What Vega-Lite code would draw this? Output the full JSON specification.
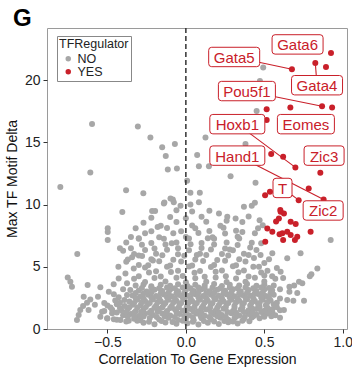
{
"$schema":"https://vega.github.io/schema/vega-lite/v6.json",
"width":300,"height":301,
"autosize":{"type":"none"},
"padding":{"left":47,"top":28,"right":5,"bottom":44},
"config":{"font":"Liberation Sans","view":{"stroke":"#9a9a9a","strokeWidth":1},
"axis":{"domain":false,"grid":false,"tickColor":"#333","tickSize":4,"labelFontSize":14,"labelColor":"#222","titleFontSize":14,"titleFontWeight":"normal","titleColor":"#111","labelPadding":2,"labelFlush":false}},
"title":{"text":"G","anchor":"start","frame":"group","fontSize":24,"fontWeight":"bold","color":"#000","dx":-34,"dy":26,"offset":3,"baseline":"alphabetic"},
"datasets":{
"pts":[
{"x":-0.598,"y":16.49,"g":"NO"},{"x":-0.306,"y":16.28,"g":"NO"},{"x":-0.226,"y":15.4,"g":"NO"},{"x":-0.151,"y":14.62,"g":"NO"},{"x":-0.07,"y":14.88,"g":"NO"},{"x":0.125,"y":15.4,"g":"NO"},{"x":0.38,"y":14.88,"g":"NO"},{"x":0.493,"y":21.02,"g":"NO"},{"x":0.472,"y":19.94,"g":"NO"},{"x":0.451,"y":17.53,"g":"NO"},{"x":-0.128,"y":13.9,"g":"NO"},{"x":-0.115,"y":12.83,"g":"NO"},{"x":-0.057,"y":12.91,"g":"NO"},{"x":-0.609,"y":12.59,"g":"NO"},{"x":-0.8,"y":11.41,"g":"NO"},{"x":-0.381,"y":11.16,"g":"NO"},{"x":-0.271,"y":10.92,"g":"NO"},{"x":-0.405,"y":9.4,"g":"NO"},{"x":-0.215,"y":9.48,"g":"NO"},{"x":-0.196,"y":9.48,"g":"NO"},{"x":-0.137,"y":10.18,"g":"NO"},{"x":-0.083,"y":10.42,"g":"NO"},{"x":-0.498,"y":8.11,"g":"NO"},{"x":-0.498,"y":7.79,"g":"NO"},{"x":-0.498,"y":7.15,"g":"NO"},{"x":-0.692,"y":6.02,"g":"NO"},{"x":0.072,"y":13.98,"g":"NO"},{"x":0.083,"y":13.09,"g":"NO"},{"x":0.147,"y":13.09,"g":"NO"},{"x":0.008,"y":11.91,"g":"NO"},{"x":0.285,"y":12.29,"g":"NO"},{"x":0.029,"y":10.95,"g":"NO"},{"x":0.089,"y":10.95,"g":"NO"},{"x":-0.14,"y":10.1,"g":"NO"},{"x":-0.077,"y":10.2,"g":"NO"},{"x":-0.034,"y":9.9,"g":"NO"},{"x":0.029,"y":10.0,"g":"NO"},{"x":0.083,"y":10.2,"g":"NO"},{"x":-0.098,"y":10.5,"g":"NO"},{"x":0.211,"y":9.29,"g":"NO"},{"x":0.264,"y":9.02,"g":"NO"},{"x":0.317,"y":8.89,"g":"NO"},{"x":0.37,"y":9.82,"g":"NO"},{"x":0.444,"y":11.75,"g":"NO"},{"x":0.42,"y":9.9,"g":"NO"},{"x":0.44,"y":10.15,"g":"NO"},{"x":0.47,"y":8.75,"g":"NO"},{"x":0.49,"y":8.35,"g":"NO"},{"x":0.923,"y":7.15,"g":"NO"},{"x":0.838,"y":4.87,"g":"NO"},{"x":0.8,"y":4.4,"g":"NO"},{"x":0.79,"y":4.25,"g":"NO"},{"x":0.604,"y":4.6,"g":"NO"},{"x":0.646,"y":5.68,"g":"NO"},{"x":0.551,"y":6.1,"g":"NO"},{"x":0.731,"y":6.1,"g":"NO"},{"x":0.434,"y":5.7,"g":"NO"},{"x":0.476,"y":5.94,"g":"NO"},{"x":0.466,"y":5.0,"g":"NO"},{"x":0.721,"y":3.8,"g":"NO"},{"x":0.742,"y":3.67,"g":"NO"},{"x":0.69,"y":3.5,"g":"NO"},{"x":0.66,"y":3.4,"g":"NO"},{"x":0.646,"y":2.33,"g":"NO"},{"x":0.685,"y":2.27,"g":"NO"},{"x":0.753,"y":2.27,"g":"NO"},{"x":0.625,"y":1.53,"g":"NO"},{"x":0.551,"y":1.39,"g":"NO"},{"x":0.498,"y":1.12,"g":"NO"},
{"x":-0.753,"y":4.15,"g":"NO"},{"x":-0.736,"y":3.8,"g":"NO"},{"x":-0.726,"y":3.4,"g":"NO"},{"x":-0.626,"y":3.53,"g":"NO"},{"x":-0.545,"y":3.35,"g":"NO"},{"x":-0.651,"y":2.6,"g":"NO"},{"x":-0.609,"y":2.38,"g":"NO"},{"x":-0.63,"y":2.11,"g":"NO"},{"x":-0.655,"y":1.85,"g":"NO"},{"x":-0.673,"y":1.53,"g":"NO"},{"x":-0.683,"y":1.12,"g":"NO"},{"x":-0.694,"y":0.72,"g":"NO"},{"x":-0.491,"y":3.0,"g":"NO"},{"x":-0.459,"y":2.79,"g":"NO"},{"x":-0.428,"y":2.55,"g":"NO"},{"x":-0.392,"y":2.33,"g":"NO"},{"x":-0.534,"y":1.39,"g":"NO"},{"x":-0.545,"y":0.99,"g":"NO"},{"x":-0.502,"y":0.86,"g":"NO"},{"x":-0.459,"y":0.78,"g":"NO"},{"x":-0.417,"y":0.72,"g":"NO"},{"x":-0.364,"y":0.67,"g":"NO"},{"x":-0.47,"y":1.26,"g":"NO"},{"x":-0.428,"y":4.07,"g":"NO"},{"x":-0.385,"y":4.47,"g":"NO"},{"x":-0.375,"y":3.67,"g":"NO"},{"x":-0.332,"y":4.87,"g":"NO"},{"x":-0.3,"y":5.14,"g":"NO"},{"x":-0.343,"y":5.76,"g":"NO"},{"x":-0.279,"y":5.86,"g":"NO"},{"x":-0.354,"y":3.13,"g":"NO"},{"x":-0.375,"y":2.73,"g":"NO"},
{"x":-0.27,"y":0.5,"g":"NO"},{"x":-0.2,"y":0.38,"g":"NO"},{"x":-0.13,"y":0.52,"g":"NO"},{"x":-0.06,"y":0.42,"g":"NO"},{"x":0.01,"y":0.47,"g":"NO"},{"x":0.08,"y":0.36,"g":"NO"},{"x":0.14,"y":0.5,"g":"NO"},{"x":0.21,"y":0.41,"g":"NO"},{"x":0.27,"y":0.55,"g":"NO"},{"x":0.33,"y":0.44,"g":"NO"},
{"x":-0.5,"y":0.85,"g":"NO"},{"x":-0.44,"y":0.75,"g":"NO"},{"x":-0.33,"y":0.82,"g":"NO"},{"x":-0.29,"y":0.7,"g":"NO"},{"x":-0.23,"y":0.88,"g":"NO"},{"x":-0.17,"y":0.76,"g":"NO"},{"x":-0.11,"y":0.9,"g":"NO"},{"x":-0.05,"y":0.72,"g":"NO"},{"x":0.0,"y":0.84,"g":"NO"},{"x":0.05,"y":0.7,"g":"NO"},{"x":0.1,"y":0.86,"g":"NO"},{"x":0.16,"y":0.78,"g":"NO"},{"x":0.22,"y":0.9,"g":"NO"},{"x":0.27,"y":0.74,"g":"NO"},{"x":0.31,"y":0.86,"g":"NO"},{"x":0.37,"y":0.8,"g":"NO"},{"x":0.42,"y":0.92,"g":"NO"},{"x":0.47,"y":0.86,"g":"NO"},
{"x":-0.4,"y":1.1,"g":"NO"},{"x":-0.35,"y":1.2,"g":"NO"},{"x":-0.3,"y":1.05,"g":"NO"},{"x":-0.26,"y":1.22,"g":"NO"},{"x":-0.21,"y":1.12,"g":"NO"},{"x":-0.15,"y":1.25,"g":"NO"},{"x":-0.1,"y":1.08,"g":"NO"},{"x":-0.04,"y":1.2,"g":"NO"},{"x":0.02,"y":1.1,"g":"NO"},{"x":0.07,"y":1.24,"g":"NO"},{"x":0.12,"y":1.06,"g":"NO"},{"x":0.18,"y":1.18,"g":"NO"},{"x":0.23,"y":1.12,"g":"NO"},{"x":0.29,"y":1.26,"g":"NO"},{"x":0.34,"y":1.08,"g":"NO"},{"x":0.4,"y":1.2,"g":"NO"},{"x":0.45,"y":1.14,"g":"NO"},{"x":0.52,"y":1.25,"g":"NO"},{"x":0.57,"y":1.1,"g":"NO"},
{"x":-0.62,"y":1.52,"g":"NO"},{"x":-0.52,"y":1.45,"g":"NO"},{"x":-0.47,"y":1.55,"g":"NO"},{"x":-0.41,"y":1.48,"g":"NO"},{"x":-0.37,"y":1.6,"g":"NO"},{"x":-0.32,"y":1.42,"g":"NO"},{"x":-0.27,"y":1.55,"g":"NO"},{"x":-0.22,"y":1.47,"g":"NO"},{"x":-0.17,"y":1.6,"g":"NO"},{"x":-0.12,"y":1.44,"g":"NO"},{"x":-0.07,"y":1.58,"g":"NO"},{"x":-0.02,"y":1.46,"g":"NO"},{"x":0.03,"y":1.6,"g":"NO"},{"x":0.08,"y":1.43,"g":"NO"},{"x":0.13,"y":1.56,"g":"NO"},{"x":0.19,"y":1.48,"g":"NO"},{"x":0.24,"y":1.62,"g":"NO"},{"x":0.3,"y":1.45,"g":"NO"},{"x":0.35,"y":1.56,"g":"NO"},{"x":0.4,"y":1.5,"g":"NO"},{"x":0.45,"y":1.6,"g":"NO"},{"x":0.5,"y":1.46,"g":"NO"},{"x":0.55,"y":1.58,"g":"NO"},{"x":0.6,"y":1.5,"g":"NO"},
{"x":-0.58,"y":1.95,"g":"NO"},{"x":-0.5,"y":1.88,"g":"NO"},{"x":-0.44,"y":1.98,"g":"NO"},{"x":-0.39,"y":1.85,"g":"NO"},{"x":-0.34,"y":1.95,"g":"NO"},{"x":-0.29,"y":1.88,"g":"NO"},{"x":-0.24,"y":2.0,"g":"NO"},{"x":-0.19,"y":1.86,"g":"NO"},{"x":-0.14,"y":1.96,"g":"NO"},{"x":-0.09,"y":1.84,"g":"NO"},{"x":-0.04,"y":1.98,"g":"NO"},{"x":0.01,"y":1.9,"g":"NO"},{"x":0.06,"y":2.0,"g":"NO"},{"x":0.11,"y":1.86,"g":"NO"},{"x":0.16,"y":1.97,"g":"NO"},{"x":0.21,"y":1.9,"g":"NO"},{"x":0.26,"y":2.02,"g":"NO"},{"x":0.31,"y":1.87,"g":"NO"},{"x":0.36,"y":1.96,"g":"NO"},{"x":0.41,"y":1.88,"g":"NO"},{"x":0.46,"y":2.0,"g":"NO"},{"x":0.51,"y":1.9,"g":"NO"},{"x":0.56,"y":1.98,"g":"NO"},
{"x":-0.45,"y":2.3,"g":"NO"},{"x":-0.36,"y":2.22,"g":"NO"},{"x":-0.31,"y":2.35,"g":"NO"},{"x":-0.26,"y":2.25,"g":"NO"},{"x":-0.21,"y":2.38,"g":"NO"},{"x":-0.16,"y":2.24,"g":"NO"},{"x":-0.11,"y":2.36,"g":"NO"},{"x":-0.06,"y":2.28,"g":"NO"},{"x":-0.01,"y":2.4,"g":"NO"},{"x":0.04,"y":2.25,"g":"NO"},{"x":0.09,"y":2.36,"g":"NO"},{"x":0.14,"y":2.27,"g":"NO"},{"x":0.19,"y":2.4,"g":"NO"},{"x":0.24,"y":2.24,"g":"NO"},{"x":0.29,"y":2.35,"g":"NO"},{"x":0.34,"y":2.28,"g":"NO"},{"x":0.39,"y":2.4,"g":"NO"},{"x":0.44,"y":2.26,"g":"NO"},{"x":0.49,"y":2.36,"g":"NO"},{"x":0.54,"y":2.3,"g":"NO"},{"x":0.6,"y":2.45,"g":"NO"},
{"x":-0.34,"y":2.7,"g":"NO"},{"x":-0.29,"y":2.62,"g":"NO"},{"x":-0.24,"y":2.75,"g":"NO"},{"x":-0.19,"y":2.66,"g":"NO"},{"x":-0.14,"y":2.78,"g":"NO"},{"x":-0.09,"y":2.64,"g":"NO"},{"x":-0.04,"y":2.74,"g":"NO"},{"x":0.01,"y":2.68,"g":"NO"},{"x":0.06,"y":2.8,"g":"NO"},{"x":0.11,"y":2.65,"g":"NO"},{"x":0.16,"y":2.76,"g":"NO"},{"x":0.21,"y":2.68,"g":"NO"},{"x":0.26,"y":2.8,"g":"NO"},{"x":0.31,"y":2.64,"g":"NO"},{"x":0.36,"y":2.74,"g":"NO"},{"x":0.41,"y":2.7,"g":"NO"},{"x":0.46,"y":2.82,"g":"NO"},{"x":0.51,"y":2.66,"g":"NO"},{"x":0.56,"y":2.76,"g":"NO"},
{"x":-0.3,"y":3.1,"g":"NO"},{"x":-0.25,"y":3.02,"g":"NO"},{"x":-0.2,"y":3.15,"g":"NO"},{"x":-0.15,"y":3.05,"g":"NO"},{"x":-0.1,"y":3.18,"g":"NO"},{"x":-0.05,"y":3.04,"g":"NO"},{"x":0.0,"y":3.14,"g":"NO"},{"x":0.05,"y":3.06,"g":"NO"},{"x":0.1,"y":3.2,"g":"NO"},{"x":0.15,"y":3.03,"g":"NO"},{"x":0.2,"y":3.15,"g":"NO"},{"x":0.25,"y":3.08,"g":"NO"},{"x":0.3,"y":3.2,"g":"NO"},{"x":0.35,"y":3.04,"g":"NO"},{"x":0.4,"y":3.14,"g":"NO"},{"x":0.45,"y":3.06,"g":"NO"},{"x":0.5,"y":3.18,"g":"NO"},{"x":0.55,"y":3.1,"g":"NO"},{"x":0.6,"y":3.2,"g":"NO"},
{"x":-0.32,"y":3.5,"g":"NO"},{"x":-0.27,"y":3.58,"g":"NO"},{"x":-0.22,"y":3.44,"g":"NO"},{"x":-0.16,"y":3.55,"g":"NO"},{"x":-0.1,"y":3.48,"g":"NO"},{"x":-0.05,"y":3.6,"g":"NO"},{"x":0.01,"y":3.45,"g":"NO"},{"x":0.06,"y":3.56,"g":"NO"},{"x":0.12,"y":3.5,"g":"NO"},{"x":0.18,"y":3.62,"g":"NO"},{"x":0.23,"y":3.46,"g":"NO"},{"x":0.28,"y":3.56,"g":"NO"},{"x":0.34,"y":3.5,"g":"NO"},{"x":0.39,"y":3.62,"g":"NO"},{"x":0.45,"y":3.48,"g":"NO"},{"x":0.5,"y":3.58,"g":"NO"},{"x":0.56,"y":3.5,"g":"NO"},
{"x":-0.33,"y":4.05,"g":"NO"},{"x":-0.26,"y":3.78,"g":"NO"},{"x":-0.2,"y":4.1,"g":"NO"},{"x":-0.13,"y":3.82,"g":"NO"},{"x":-0.06,"y":4.12,"g":"NO"},{"x":0.0,"y":3.76,"g":"NO"},{"x":0.06,"y":4.08,"g":"NO"},{"x":0.13,"y":3.8,"g":"NO"},{"x":0.19,"y":4.15,"g":"NO"},{"x":0.26,"y":3.78,"g":"NO"},{"x":0.32,"y":4.06,"g":"NO"},{"x":0.38,"y":3.8,"g":"NO"},{"x":0.44,"y":4.12,"g":"NO"},{"x":0.5,"y":3.82,"g":"NO"},{"x":0.57,"y":4.05,"g":"NO"},
{"x":-0.3,"y":4.25,"g":"NO"},{"x":-0.235,"y":4.55,"g":"NO"},{"x":-0.16,"y":4.22,"g":"NO"},{"x":-0.095,"y":4.58,"g":"NO"},{"x":-0.02,"y":4.26,"g":"NO"},{"x":0.055,"y":4.52,"g":"NO"},{"x":0.12,"y":4.2,"g":"NO"},{"x":0.19,"y":4.6,"g":"NO"},{"x":0.255,"y":4.25,"g":"NO"},{"x":0.335,"y":4.56,"g":"NO"},{"x":0.4,"y":4.22,"g":"NO"},{"x":0.48,"y":4.55,"g":"NO"},{"x":0.55,"y":4.25,"g":"NO"},
{"x":-0.26,"y":4.95,"g":"NO"},{"x":-0.19,"y":4.65,"g":"NO"},{"x":-0.12,"y":5.0,"g":"NO"},{"x":-0.05,"y":4.68,"g":"NO"},{"x":0.02,"y":5.02,"g":"NO"},{"x":0.09,"y":4.66,"g":"NO"},{"x":0.16,"y":4.98,"g":"NO"},{"x":0.23,"y":4.7,"g":"NO"},{"x":0.3,"y":5.05,"g":"NO"},{"x":0.37,"y":4.7,"g":"NO"},{"x":0.43,"y":5.0,"g":"NO"},{"x":0.52,"y":4.68,"g":"NO"},
{"x":-0.38,"y":5.4,"g":"NO"},{"x":-0.24,"y":5.12,"g":"NO"},{"x":-0.17,"y":5.45,"g":"NO"},{"x":-0.1,"y":5.1,"g":"NO"},{"x":-0.03,"y":5.42,"g":"NO"},{"x":0.04,"y":5.1,"g":"NO"},{"x":0.11,"y":5.46,"g":"NO"},{"x":0.18,"y":5.15,"g":"NO"},{"x":0.25,"y":5.48,"g":"NO"},{"x":0.32,"y":5.12,"g":"NO"},{"x":0.38,"y":5.42,"g":"NO"},{"x":0.5,"y":5.3,"g":"NO"},
{"x":-0.37,"y":5.58,"g":"NO"},{"x":-0.3,"y":5.9,"g":"NO"},{"x":-0.22,"y":5.6,"g":"NO"},{"x":-0.15,"y":5.92,"g":"NO"},{"x":-0.08,"y":5.56,"g":"NO"},{"x":-0.01,"y":5.88,"g":"NO"},{"x":0.06,"y":5.58,"g":"NO"},{"x":0.13,"y":5.94,"g":"NO"},{"x":0.2,"y":5.55,"g":"NO"},{"x":0.27,"y":5.9,"g":"NO"},{"x":0.34,"y":5.6,"g":"NO"},{"x":0.4,"y":5.95,"g":"NO"},
{"x":-0.4,"y":6.3,"g":"NO"},{"x":-0.33,"y":6.02,"g":"NO"},{"x":-0.26,"y":6.36,"g":"NO"},{"x":-0.19,"y":6.04,"g":"NO"},{"x":-0.12,"y":6.38,"g":"NO"},{"x":-0.05,"y":6.0,"g":"NO"},{"x":0.02,"y":6.34,"g":"NO"},{"x":0.09,"y":6.05,"g":"NO"},{"x":0.16,"y":6.4,"g":"NO"},{"x":0.23,"y":6.02,"g":"NO"},{"x":0.3,"y":6.34,"g":"NO"},{"x":0.37,"y":6.05,"g":"NO"},{"x":0.45,"y":6.35,"g":"NO"},
{"x":-0.35,"y":6.5,"g":"NO"},{"x":-0.28,"y":6.78,"g":"NO"},{"x":-0.2,"y":6.48,"g":"NO"},{"x":-0.13,"y":6.8,"g":"NO"},{"x":-0.05,"y":6.5,"g":"NO"},{"x":0.03,"y":6.82,"g":"NO"},{"x":0.1,"y":6.52,"g":"NO"},{"x":0.18,"y":6.8,"g":"NO"},{"x":0.25,"y":6.48,"g":"NO"},{"x":0.33,"y":6.76,"g":"NO"},{"x":0.41,"y":6.55,"g":"NO"},
{"x":-0.38,"y":6.95,"g":"NO"},{"x":-0.3,"y":7.25,"g":"NO"},{"x":-0.22,"y":6.92,"g":"NO"},{"x":-0.14,"y":7.26,"g":"NO"},{"x":-0.06,"y":6.95,"g":"NO"},{"x":0.02,"y":7.28,"g":"NO"},{"x":0.1,"y":6.92,"g":"NO"},{"x":0.18,"y":7.25,"g":"NO"},{"x":0.26,"y":6.96,"g":"NO"},{"x":0.34,"y":7.28,"g":"NO"},{"x":0.42,"y":6.94,"g":"NO"},
{"x":-0.35,"y":7.4,"g":"NO"},{"x":-0.26,"y":7.7,"g":"NO"},{"x":-0.17,"y":7.38,"g":"NO"},{"x":-0.08,"y":7.7,"g":"NO"},{"x":0.0,"y":7.4,"g":"NO"},{"x":0.08,"y":7.72,"g":"NO"},{"x":0.17,"y":7.38,"g":"NO"},{"x":0.25,"y":7.68,"g":"NO"},{"x":0.33,"y":7.42,"g":"NO"},{"x":0.44,"y":7.7,"g":"NO"},
{"x":-0.32,"y":8.1,"g":"NO"},{"x":-0.22,"y":7.85,"g":"NO"},{"x":-0.12,"y":8.12,"g":"NO"},{"x":-0.03,"y":7.86,"g":"NO"},{"x":0.06,"y":8.1,"g":"NO"},{"x":0.15,"y":7.88,"g":"NO"},{"x":0.24,"y":8.14,"g":"NO"},{"x":0.32,"y":7.9,"g":"NO"},{"x":0.46,"y":8.1,"g":"NO"},
{"x":-0.27,"y":8.55,"g":"NO"},{"x":-0.16,"y":8.3,"g":"NO"},{"x":-0.06,"y":8.6,"g":"NO"},{"x":0.04,"y":8.32,"g":"NO"},{"x":0.13,"y":8.62,"g":"NO"},{"x":0.22,"y":8.3,"g":"NO"},{"x":0.36,"y":8.6,"g":"NO"},
{"x":-0.22,"y":8.95,"g":"NO"},{"x":-0.1,"y":9.0,"g":"NO"},{"x":0.0,"y":8.9,"g":"NO"},{"x":0.1,"y":9.02,"g":"NO"},{"x":0.4,"y":9.05,"g":"NO"},
{"x":-0.06,"y":9.55,"g":"NO"},{"x":0.04,"y":9.45,"g":"NO"},{"x":0.15,"y":9.5,"g":"NO"},
{"x":-0.38,"y":0.6,"g":"NO"},{"x":-0.31,"y":0.66,"g":"NO"},{"x":-0.235,"y":0.58,"g":"NO"},{"x":-0.155,"y":0.64,"g":"NO"},{"x":-0.085,"y":0.57,"g":"NO"},{"x":-0.02,"y":0.66,"g":"NO"},{"x":0.045,"y":0.58,"g":"NO"},{"x":0.115,"y":0.65,"g":"NO"},{"x":0.18,"y":0.6,"g":"NO"},{"x":0.245,"y":0.64,"g":"NO"},{"x":0.3,"y":0.6,"g":"NO"},{"x":0.36,"y":0.66,"g":"NO"},{"x":0.405,"y":0.62,"g":"NO"},
{"x":-0.37,"y":0.98,"g":"NO"},{"x":-0.325,"y":0.95,"g":"NO"},{"x":-0.27,"y":1.0,"g":"NO"},{"x":-0.185,"y":0.97,"g":"NO"},{"x":-0.135,"y":1.03,"g":"NO"},{"x":-0.07,"y":0.96,"g":"NO"},{"x":-0.01,"y":1.02,"g":"NO"},{"x":0.045,"y":0.95,"g":"NO"},{"x":0.095,"y":1.03,"g":"NO"},{"x":0.15,"y":0.97,"g":"NO"},{"x":0.2,"y":1.02,"g":"NO"},{"x":0.255,"y":0.96,"g":"NO"},{"x":0.32,"y":1.0,"g":"NO"},{"x":0.375,"y":0.97,"g":"NO"},{"x":0.43,"y":1.03,"g":"NO"},{"x":0.5,"y":0.98,"g":"NO"},{"x":0.545,"y":1.02,"g":"NO"},
{"x":-0.44,"y":1.33,"g":"NO"},{"x":-0.38,"y":1.37,"g":"NO"},{"x":-0.33,"y":1.3,"g":"NO"},{"x":-0.285,"y":1.36,"g":"NO"},{"x":-0.23,"y":1.32,"g":"NO"},{"x":-0.18,"y":1.38,"g":"NO"},{"x":-0.125,"y":1.31,"g":"NO"},{"x":-0.06,"y":1.36,"g":"NO"},{"x":0.0,"y":1.32,"g":"NO"},{"x":0.05,"y":1.38,"g":"NO"},{"x":0.1,"y":1.3,"g":"NO"},{"x":0.16,"y":1.36,"g":"NO"},{"x":0.21,"y":1.32,"g":"NO"},{"x":0.265,"y":1.37,"g":"NO"},{"x":0.32,"y":1.31,"g":"NO"},{"x":0.37,"y":1.36,"g":"NO"},{"x":0.425,"y":1.32,"g":"NO"},{"x":0.48,"y":1.37,"g":"NO"},{"x":0.53,"y":1.33,"g":"NO"},
{"x":-0.48,"y":1.72,"g":"NO"},{"x":-0.42,"y":1.68,"g":"NO"},{"x":-0.36,"y":1.75,"g":"NO"},{"x":-0.31,"y":1.7,"g":"NO"},{"x":-0.255,"y":1.76,"g":"NO"},{"x":-0.2,"y":1.7,"g":"NO"},{"x":-0.15,"y":1.74,"g":"NO"},{"x":-0.1,"y":1.68,"g":"NO"},{"x":-0.045,"y":1.75,"g":"NO"},{"x":0.005,"y":1.7,"g":"NO"},{"x":0.055,"y":1.76,"g":"NO"},{"x":0.1,"y":1.69,"g":"NO"},{"x":0.155,"y":1.74,"g":"NO"},{"x":0.2,"y":1.7,"g":"NO"},{"x":0.255,"y":1.76,"g":"NO"},{"x":0.31,"y":1.7,"g":"NO"},{"x":0.36,"y":1.75,"g":"NO"},{"x":0.42,"y":1.69,"g":"NO"},{"x":0.47,"y":1.76,"g":"NO"},{"x":0.52,"y":1.71,"g":"NO"},{"x":0.58,"y":1.75,"g":"NO"},
{"x":-0.42,"y":2.12,"g":"NO"},{"x":-0.33,"y":2.1,"g":"NO"},{"x":-0.28,"y":2.15,"g":"NO"},{"x":-0.23,"y":2.1,"g":"NO"},{"x":-0.18,"y":2.16,"g":"NO"},{"x":-0.13,"y":2.09,"g":"NO"},{"x":-0.08,"y":2.14,"g":"NO"},{"x":-0.03,"y":2.1,"g":"NO"},{"x":0.02,"y":2.16,"g":"NO"},{"x":0.07,"y":2.1,"g":"NO"},{"x":0.12,"y":2.14,"g":"NO"},{"x":0.17,"y":2.09,"g":"NO"},{"x":0.22,"y":2.15,"g":"NO"},{"x":0.27,"y":2.1,"g":"NO"},{"x":0.32,"y":2.16,"g":"NO"},{"x":0.37,"y":2.1,"g":"NO"},{"x":0.42,"y":2.14,"g":"NO"},{"x":0.47,"y":2.1,"g":"NO"},{"x":0.52,"y":2.16,"g":"NO"},{"x":0.58,"y":2.12,"g":"NO"},
{"x":-0.32,"y":2.5,"g":"NO"},{"x":-0.27,"y":2.46,"g":"NO"},{"x":-0.22,"y":2.53,"g":"NO"},{"x":-0.17,"y":2.48,"g":"NO"},{"x":-0.12,"y":2.54,"g":"NO"},{"x":-0.07,"y":2.47,"g":"NO"},{"x":-0.02,"y":2.52,"g":"NO"},{"x":0.03,"y":2.48,"g":"NO"},{"x":0.08,"y":2.54,"g":"NO"},{"x":0.13,"y":2.47,"g":"NO"},{"x":0.18,"y":2.52,"g":"NO"},{"x":0.23,"y":2.48,"g":"NO"},{"x":0.28,"y":2.54,"g":"NO"},{"x":0.33,"y":2.47,"g":"NO"},{"x":0.38,"y":2.52,"g":"NO"},{"x":0.43,"y":2.48,"g":"NO"},{"x":0.48,"y":2.54,"g":"NO"},{"x":0.53,"y":2.5,"g":"NO"},
{"x":-0.32,"y":2.9,"g":"NO"},{"x":-0.27,"y":2.86,"g":"NO"},{"x":-0.22,"y":2.93,"g":"NO"},{"x":-0.16,"y":2.88,"g":"NO"},{"x":-0.11,"y":2.94,"g":"NO"},{"x":-0.06,"y":2.87,"g":"NO"},{"x":-0.01,"y":2.92,"g":"NO"},{"x":0.04,"y":2.88,"g":"NO"},{"x":0.08,"y":2.94,"g":"NO"},{"x":0.13,"y":2.87,"g":"NO"},{"x":0.18,"y":2.92,"g":"NO"},{"x":0.24,"y":2.88,"g":"NO"},{"x":0.29,"y":2.94,"g":"NO"},{"x":0.34,"y":2.87,"g":"NO"},{"x":0.39,"y":2.92,"g":"NO"},{"x":0.44,"y":2.88,"g":"NO"},{"x":0.49,"y":2.94,"g":"NO"},{"x":0.54,"y":2.9,"g":"NO"},
{"x":-0.28,"y":3.3,"g":"NO"},{"x":-0.22,"y":3.34,"g":"NO"},{"x":-0.17,"y":3.28,"g":"NO"},{"x":-0.12,"y":3.33,"g":"NO"},{"x":-0.07,"y":3.27,"g":"NO"},{"x":-0.02,"y":3.34,"g":"NO"},{"x":0.03,"y":3.28,"g":"NO"},{"x":0.08,"y":3.33,"g":"NO"},{"x":0.12,"y":3.27,"g":"NO"},{"x":0.17,"y":3.34,"g":"NO"},{"x":0.22,"y":3.28,"g":"NO"},{"x":0.28,"y":3.33,"g":"NO"},{"x":0.33,"y":3.27,"g":"NO"},{"x":0.38,"y":3.34,"g":"NO"},{"x":0.43,"y":3.28,"g":"NO"},{"x":0.48,"y":3.33,"g":"NO"},{"x":0.53,"y":3.3,"g":"NO"},
{"x":-0.43,"y":5.0,"g":"NO"},{"x":-0.21,"y":5.5,"g":"NO"},{"x":0.07,"y":5.95,"g":"NO"},{"x":0.28,"y":6.4,"g":"NO"},{"x":-0.09,"y":6.9,"g":"NO"},{"x":0.14,"y":7.3,"g":"NO"},{"x":-0.3,"y":7.3,"g":"NO"},{"x":0.36,"y":7.8,"g":"NO"},{"x":-0.18,"y":8.2,"g":"NO"},{"x":0.26,"y":8.7,"g":"NO"},{"x":-0.42,"y":6.5,"g":"NO"},{"x":0.48,"y":6.9,"g":"NO"},{"x":0.53,"y":5.6,"g":"NO"},{"x":0.58,"y":4.9,"g":"NO"},{"x":0.62,"y":4.1,"g":"NO"},{"x":0.66,"y":3.0,"g":"NO"},{"x":0.71,"y":2.9,"g":"NO"},{"x":0.6,"y":0.9,"g":"NO"},{"x":-0.56,"y":2.6,"g":"NO"},{"x":-0.52,"y":2.1,"g":"NO"},{"x":-0.46,"y":3.6,"g":"NO"},{"x":-0.4,"y":3.2,"g":"NO"},{"x":0.5,"y":4.3,"g":"NO"},
{"x":0.925,"y":22.2,"g":"YES"},{"x":0.676,"y":20.88,"g":"YES"},{"x":0.825,"y":21.39,"g":"YES"},{"x":0.893,"y":21.07,"g":"YES"},{"x":0.868,"y":17.91,"g":"YES"},{"x":0.932,"y":17.81,"g":"YES"},{"x":0.515,"y":17.67,"g":"YES"},{"x":0.666,"y":17.81,"g":"YES"},{"x":0.515,"y":16.81,"g":"YES"},{"x":0.544,"y":14.06,"g":"YES"},{"x":0.62,"y":13.84,"g":"YES"},{"x":0.698,"y":12.99,"g":"YES"},{"x":0.857,"y":12.56,"g":"YES"},{"x":0.783,"y":11.3,"g":"YES"},{"x":0.878,"y":10.42,"g":"YES"},{"x":0.536,"y":11.03,"g":"YES"},{"x":0.505,"y":10.75,"g":"YES"},{"x":0.719,"y":10.36,"g":"YES"},{"x":0.604,"y":9.42,"g":"YES"},{"x":0.625,"y":9.29,"g":"YES"},{"x":0.593,"y":8.89,"g":"YES"},{"x":0.575,"y":8.65,"g":"YES"},{"x":0.668,"y":8.62,"g":"YES"},{"x":0.7,"y":8.45,"g":"YES"},{"x":0.519,"y":8.09,"g":"YES"},{"x":0.551,"y":7.82,"g":"YES"},{"x":0.615,"y":7.69,"g":"YES"},{"x":0.646,"y":7.82,"g":"YES"},{"x":0.668,"y":7.55,"g":"YES"},{"x":0.71,"y":7.41,"g":"YES"},{"x":0.795,"y":7.82,"g":"YES"},{"x":0.506,"y":7.01,"g":"YES"},{"x":0.62,"y":7.15,"g":"YES"},{"x":0.695,"y":7.15,"g":"YES"},{"x":0.597,"y":7.62,"g":"YES"},{"x":0.602,"y":9.56,"g":"YES"}
],
"labs":[
{"label":"Gata6","lx":0.712,"ly":22.88},
{"label":"Gata5","lx":0.308,"ly":21.87,"px":0.676,"py":20.88},
{"label":"Gata4","lx":0.836,"ly":19.6,"px":0.825,"py":21.39},
{"label":"Pou5f1","lx":0.389,"ly":19.13,"px":0.868,"py":17.91},
{"label":"Eomes","lx":0.765,"ly":16.47},
{"label":"Hoxb1","lx":0.328,"ly":16.47,"px":0.698,"py":12.99},
{"label":"Hand1","lx":0.328,"ly":13.94,"px":0.878,"py":10.42},
{"label":"Zic3","lx":0.881,"ly":13.94},
{"label":"T","lx":0.616,"ly":11.34,"px":0.719,"py":10.36},
{"label":"Zic2","lx":0.875,"ly":9.53}
]},
"layer":[
{"data":{"name":"pts"},
"mark":{"type":"circle","size":36,"opacity":1},
"encoding":{
"x":{"field":"x","type":"quantitative","scale":{"domain":[-0.885,1.027],"nice":false,"zero":false},"axis":{"values":[-0.5,0,0.5,1],"format":".1f","title":"Correlation To Gene Expression","titlePadding":3}},
"y":{"field":"y","type":"quantitative","scale":{"domain":[0,24.2],"nice":false,"zero":false},"axis":{"values":[0,5,10,15,20],"format":"d","title":"Max TF Motif Delta","titlePadding":5,"labelPadding":3}},
"color":{"field":"g","type":"nominal","scale":{"domain":["NO","YES"],"range":["#A7A7A7","#C9202A"]},
"legend":{"title":"TFRegulator","orient":"none","legendX":10,"legendY":8,"strokeColor":"#888","fillColor":"#fff","padding":2,"titleFontSize":12.5,"titleFontWeight":"normal","titleColor":"#222","labelFontSize":12.5,"labelColor":"#222","symbolSize":30,"symbolOffset":3,"titlePadding":2,"rowPadding":0,"symbolType":"circle","labelOffset":3,"symbolStrokeWidth":0}}}},
{"data":{"values":[{"z":0}]},
"mark":{"type":"rule","strokeDash":[5,3],"color":"#333","strokeWidth":1.5},
"encoding":{"x":{"datum":0,"type":"quantitative","scale":{"domain":[-0.885,1.027],"nice":false,"zero":false},"title":"Correlation To Gene Expression"}}},
{"data":{"name":"labs"},"transform":[{"filter":"isValid(datum.px)"}],
"mark":{"type":"rule","color":"#C9202A","strokeWidth":1.1},
"encoding":{"x":{"field":"lx","type":"quantitative","scale":{"domain":[-0.885,1.027],"nice":false,"zero":false},"title":"Correlation To Gene Expression"},"y":{"field":"ly","type":"quantitative","scale":{"domain":[0,24.2],"nice":false,"zero":false},"title":"Max TF Motif Delta"},"x2":{"field":"px"},"y2":{"field":"py"}}},
{"data":{"name":"labs"},
"mark":{"type":"point","filled":true,"fill":"#fff","stroke":"#C9202A","strokeWidth":1,"size":400,"opacity":1,"fillOpacity":1,"strokeOpacity":1},
"encoding":{"x":{"field":"lx","type":"quantitative","scale":{"domain":[-0.885,1.027],"nice":false,"zero":false},"title":"Correlation To Gene Expression"},"y":{"field":"ly","type":"quantitative","scale":{"domain":[0,24.2],"nice":false,"zero":false},"title":"Max TF Motif Delta"},
"shape":{"field":"label","type":"nominal","legend":null,"scale":{"domain":["Gata6","Gata5","Gata4","Pou5f1","Eomes","Hoxb1","Hand1","Zic3","T","Zic2"],
"range":["M-2.25,-0.97H2.25Q2.55,-0.97,2.55,-0.67V0.67Q2.55,0.97,2.25,0.97H-2.25Q-2.55,0.97,-2.55,0.67V-0.67Q-2.55,-0.97,-2.25,-0.97Z",
"M-2.25,-0.97H2.25Q2.55,-0.97,2.55,-0.67V0.67Q2.55,0.97,2.25,0.97H-2.25Q-2.55,0.97,-2.55,0.67V-0.67Q-2.55,-0.97,-2.25,-0.97Z",
"M-2.25,-0.97H2.25Q2.55,-0.97,2.55,-0.67V0.67Q2.55,0.97,2.25,0.97H-2.25Q-2.55,0.97,-2.55,0.67V-0.67Q-2.55,-0.97,-2.25,-0.97Z",
"M-2.55,-0.97H2.55Q2.85,-0.97,2.85,-0.67V0.67Q2.85,0.97,2.55,0.97H-2.55Q-2.85,0.97,-2.85,0.67V-0.67Q-2.85,-0.97,-2.55,-0.97Z",
"M-2.55,-0.97H2.55Q2.85,-0.97,2.85,-0.67V0.67Q2.85,0.97,2.55,0.97H-2.55Q-2.85,0.97,-2.85,0.67V-0.67Q-2.85,-0.97,-2.55,-0.97Z",
"M-2.45,-0.97H2.45Q2.75,-0.97,2.75,-0.67V0.67Q2.75,0.97,2.45,0.97H-2.45Q-2.75,0.97,-2.75,0.67V-0.67Q-2.75,-0.97,-2.45,-0.97Z",
"M-2.45,-0.97H2.45Q2.75,-0.97,2.75,-0.67V0.67Q2.75,0.97,2.45,0.97H-2.45Q-2.75,0.97,-2.75,0.67V-0.67Q-2.75,-0.97,-2.45,-0.97Z",
"M-1.7,-0.97H1.7Q2,-0.97,2,-0.67V0.67Q2,0.97,1.7,0.97H-1.7Q-2,0.97,-2,0.67V-0.67Q-2,-0.97,-1.7,-0.97Z",
"M-0.65,-0.97H0.65Q0.95,-0.97,0.95,-0.67V0.67Q0.95,0.97,0.65,0.97H-0.65Q-0.95,0.97,-0.95,0.67V-0.67Q-0.95,-0.97,-0.65,-0.97Z",
"M-1.7,-0.97H1.7Q2,-0.97,2,-0.67V0.67Q2,0.97,1.7,0.97H-1.7Q-2,0.97,-2,0.67V-0.67Q-2,-0.97,-1.7,-0.97Z"]}}}},
{"data":{"name":"labs"},
"mark":{"type":"text","color":"#C9202A","fontSize":15,"baseline":"middle","align":"center","dy":1},
"encoding":{"x":{"field":"lx","type":"quantitative","scale":{"domain":[-0.885,1.027],"nice":false,"zero":false},"title":"Correlation To Gene Expression"},"y":{"field":"ly","type":"quantitative","scale":{"domain":[0,24.2],"nice":false,"zero":false},"title":"Max TF Motif Delta"},"text":{"field":"label"}}}
]
}
